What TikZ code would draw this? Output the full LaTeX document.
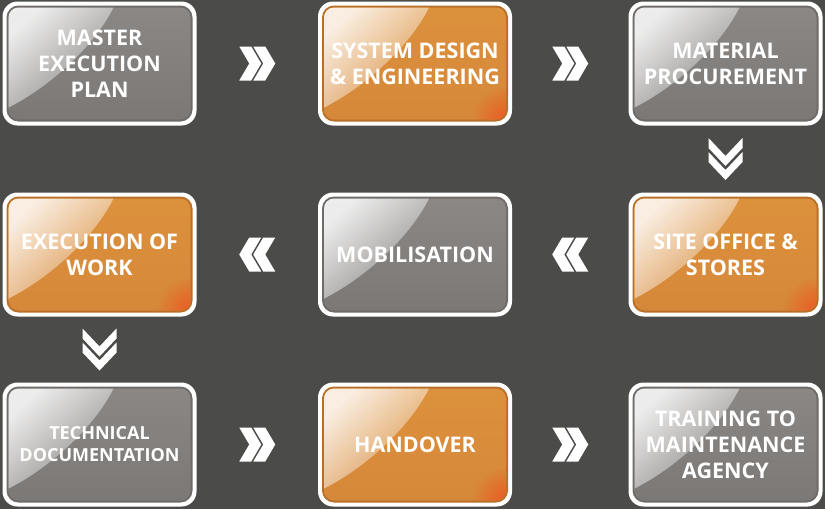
\documentclass[tikz,border=0pt]{standalone}
\usepackage{fontspec}
\setmainfont{Open Sans}
\usetikzlibrary{fadings,calc}
\definecolor{bgc}{HTML}{4B4B49}
\definecolor{greytop}{HTML}{8A8785}
\definecolor{greybot}{HTML}{7B7876}
\definecolor{greyedge}{HTML}{6E6B69}
\definecolor{orangetop}{HTML}{DC913C}
\definecolor{orangebot}{HTML}{D6883A}
\definecolor{orangeedge}{HTML}{B96F28}
\definecolor{orangehot}{HTML}{EE5520}
\tikzfading[name=glossfade, top color=transparent!15, bottom color=transparent!92]
\tikzfading[name=hotfade, inner color=transparent!0, outer color=transparent!100]
\tikzset{
  lbl/.style={text=white, align=center, inner sep=0pt,
    minimum width=194pt, minimum height=124pt,
    font=\bfseries\fontsize{21.5}{26}\selectfont},
  smalllbl/.style={font=\bfseries\fontsize{18}{22}\selectfont},
  chev/.pic={
    \fill[white] (-18,-17) -- (-6,-17) -- (4,0) -- (-6,17) -- (-18,17) -- (-8,0) -- cycle;
    \fill[white] (-4,-17) -- (8,-17) -- (18,0) -- (8,17) -- (-4,17) -- (6,0) -- cycle;
  },
  chevdown/.pic={
    \fill[white] (-17,-21) -- (0,-3) -- (17,-21) -- (17,-11) -- (0,7) -- (-17,-11) -- cycle;
    \fill[white] (-17,-7) -- (0,11) -- (17,-7) -- (17,3) -- (0,21) -- (-17,3) -- cycle;
  }
}
% #1 name, #2 cx, #3 cy, #4 top colour, #5 bottom colour, #6 edge colour,
% #7 hot-corner opacity, #8 extra label style, #9 text
\newcommand\gbox[9]{%
  \begin{scope}[shift={(#2,#3)}]
    \fill[white, rounded corners=15pt] (-97,-62) rectangle (97,62);
    \fill[#6, rounded corners=12pt] (-93,-58) rectangle (93,58);
    \shade[top color=#4, bottom color=#5, rounded corners=10pt] (-91,-56) rectangle (91,56);
    \begin{scope}
      \clip[rounded corners=10pt] (-91,-56) rectangle (91,56);
      \fill[orangehot, opacity=#7, path fading=hotfade] (91,56) circle (34);
      \fill[white, path fading=glossfade, fading angle=45]
        (-91,-56) -- (14,-56) .. controls (-6,-16) and (-51,24) .. (-91,44) -- cycle;
    \end{scope}
  \end{scope}
  \node[lbl,#8] (#1) at (#2,#3) {#9};
}
\begin{document}
\begin{tikzpicture}[x=1pt,y=-1pt]
  \fill[bgc] (0,0) rectangle (825,509);
  \useasboundingbox (0,0) rectangle (825,509);

  \gbox{b1}{99.5}{63.5}{greytop}{greybot}{greyedge}{0}{}{MASTER\\EXECUTION\\PLAN}
  \gbox{b2}{415}{63.5}{orangetop}{orangebot}{orangeedge}{0.9}{}{SYSTEM DESIGN\\\& ENGINEERING}
  \gbox{b3}{725.5}{63.5}{greytop}{greybot}{greyedge}{0}{}{MATERIAL\\PROCUREMENT}
  \gbox{b4}{725.5}{254.5}{orangetop}{orangebot}{orangeedge}{0.9}{}{SITE OFFICE \&\\STORES}
  \gbox{b5}{415}{254.5}{greytop}{greybot}{greyedge}{0}{}{MOBILISATION}
  \gbox{b6}{99.5}{254.5}{orangetop}{orangebot}{orangeedge}{0.9}{}{EXECUTION OF\\WORK}
  \gbox{b7}{99.5}{444.5}{greytop}{greybot}{greyedge}{0}{smalllbl}{TECHNICAL\\DOCUMENTATION}
  \gbox{b8}{415}{444.5}{orangetop}{orangebot}{orangeedge}{0.9}{}{HANDOVER}
  \gbox{b9}{725.5}{444.5}{greytop}{greybot}{greyedge}{0}{}{TRAINING TO\\MAINTENANCE\\AGENCY}

  \pic at ($(b1.east)!0.5!(b2.west)$) {chev};
  \pic at ($(b2.east)!0.5!(b3.west)$) {chev};
  \pic at ($(b3.south)!0.5!(b4.north)$) {chevdown};
  \pic[rotate=180] at ($(b4.west)!0.5!(b5.east)$) {chev};
  \pic[rotate=180] at ($(b5.west)!0.5!(b6.east)$) {chev};
  \pic at ($(b6.south)!0.5!(b7.north)$) {chevdown};
  \pic at ($(b7.east)!0.5!(b8.west)$) {chev};
  \pic at ($(b8.east)!0.5!(b9.west)$) {chev};
\end{tikzpicture}
\end{document}
